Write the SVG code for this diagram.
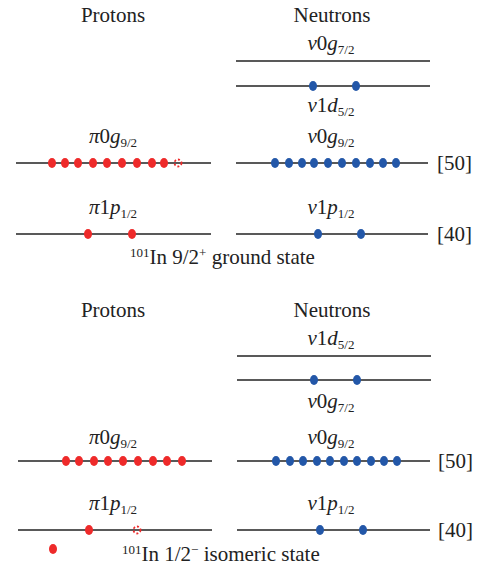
<svg xmlns="http://www.w3.org/2000/svg" width="484" height="567" viewBox="0 0 484 567" font-family="'Liberation Serif', 'DejaVu Serif', serif">
<style>
text{font-family:'Liberation Serif','DejaVu Serif',serif;fill:#222;font-size:21px}
.t{text-anchor:middle}
.i{font-style:italic}
.s{font-size:13px}
.lv{stroke:#222;stroke-width:1.5;fill:none}
.p{fill:#ee2a2a}
.n{fill:#2357a8}
.h{fill:none;stroke:#ee2a2a;stroke-width:1.8;stroke-dasharray:2 2}
</style>
<rect width="484" height="567" fill="#fff"/>
<g id="ground">
  <g id="g-head">
    <text class="t" x="113" y="22">Protons</text>
    <text class="t" x="332" y="22">Neutrons</text>
  </g>
  <g id="g-n0g72">
    <text class="t" x="331" y="50"><tspan class="i">v</tspan>0<tspan class="i">g</tspan><tspan class="s" dy="4">7/2</tspan></text>
    <line class="lv" x1="236" y1="61" x2="430" y2="61"/>
  </g>
  <g id="g-n1d52">
    <line class="lv" x1="236" y1="86" x2="430" y2="86"/>
    <ellipse class="n" cx="313" cy="86" rx="4" ry="5"/>
    <ellipse class="n" cx="356" cy="86" rx="4" ry="5"/>
    <text class="t" x="331" y="112"><tspan class="i">v</tspan>1<tspan class="i">d</tspan><tspan class="s" dy="4">5/2</tspan></text>
  </g>
  <g id="g-p0g92">
    <text class="t" x="113" y="143"><tspan class="i">π</tspan>0<tspan class="i">g</tspan><tspan class="s" dy="4">9/2</tspan></text>
    <line class="lv" x1="16" y1="163" x2="211" y2="163"/>
    <ellipse class="p" cx="52" cy="163" rx="4" ry="5"/>
    <ellipse class="p" cx="65" cy="163" rx="4" ry="5"/>
    <ellipse class="p" cx="78" cy="163" rx="4" ry="5"/>
    <ellipse class="p" cx="93" cy="163" rx="4" ry="5"/>
    <ellipse class="p" cx="107" cy="163" rx="4" ry="5"/>
    <ellipse class="p" cx="122" cy="163" rx="4" ry="5"/>
    <ellipse class="p" cx="137" cy="163" rx="4" ry="5"/>
    <ellipse class="p" cx="152" cy="163" rx="4" ry="5"/>
    <ellipse class="p" cx="164" cy="163" rx="4" ry="5"/>
    <circle class="h" cx="178" cy="163" r="3.5"/>
  </g>
  <g id="g-n0g92">
    <text class="t" x="331" y="143"><tspan class="i">v</tspan>0<tspan class="i">g</tspan><tspan class="s" dy="4">9/2</tspan></text>
    <line class="lv" x1="236" y1="163" x2="428" y2="163"/>
    <ellipse class="n" cx="275" cy="163" rx="4" ry="5"/>
    <ellipse class="n" cx="289" cy="163" rx="4" ry="5"/>
    <ellipse class="n" cx="302" cy="163" rx="4" ry="5"/>
    <ellipse class="n" cx="314" cy="163" rx="4" ry="5"/>
    <ellipse class="n" cx="328" cy="163" rx="4" ry="5"/>
    <ellipse class="n" cx="342" cy="163" rx="4" ry="5"/>
    <ellipse class="n" cx="356" cy="163" rx="4" ry="5"/>
    <ellipse class="n" cx="370" cy="163" rx="4" ry="5"/>
    <ellipse class="n" cx="383" cy="163" rx="4" ry="5"/>
    <ellipse class="n" cx="396" cy="163" rx="4" ry="5"/>
    <text x="437" y="170">[50]</text>
  </g>
  <g id="g-p1p12">
    <text class="t" x="113" y="214"><tspan class="i">π</tspan>1<tspan class="i">p</tspan><tspan class="s" dy="4">1/2</tspan></text>
    <line class="lv" x1="16" y1="234" x2="211" y2="234"/>
    <ellipse class="p" cx="88" cy="234" rx="4" ry="5"/>
    <ellipse class="p" cx="132" cy="234" rx="4" ry="5"/>
  </g>
  <g id="g-n1p12">
    <text class="t" x="331" y="214"><tspan class="i">v</tspan>1<tspan class="i">p</tspan><tspan class="s" dy="4">1/2</tspan></text>
    <line class="lv" x1="236" y1="234" x2="428" y2="234"/>
    <ellipse class="n" cx="318" cy="234" rx="4" ry="5"/>
    <ellipse class="n" cx="361" cy="234" rx="4" ry="5"/>
    <text x="437" y="241">[40]</text>
  </g>
  <text id="g-title" x="130" y="264"><tspan class="s" dy="-7">101</tspan><tspan dy="7">In 9/2</tspan><tspan class="s" dy="-7">+</tspan><tspan dy="7"> ground state</tspan></text>
</g>
<g id="isomer">
  <g id="i-head">
    <text class="t" x="113" y="317">Protons</text>
    <text class="t" x="332" y="317">Neutrons</text>
  </g>
  <g id="i-n1d52">
    <text class="t" x="331" y="345"><tspan class="i">v</tspan>1<tspan class="i">d</tspan><tspan class="s" dy="4">5/2</tspan></text>
    <line class="lv" x1="237" y1="356" x2="431" y2="356"/>
  </g>
  <g id="i-n0g72">
    <line class="lv" x1="237" y1="380" x2="431" y2="380"/>
    <ellipse class="n" cx="314" cy="380" rx="4" ry="5"/>
    <ellipse class="n" cx="357" cy="380" rx="4" ry="5"/>
    <text class="t" x="331" y="408"><tspan class="i">v</tspan>0<tspan class="i">g</tspan><tspan class="s" dy="4">7/2</tspan></text>
  </g>
  <g id="i-p0g92">
    <text class="t" x="113" y="444"><tspan class="i">π</tspan>0<tspan class="i">g</tspan><tspan class="s" dy="4">9/2</tspan></text>
    <line class="lv" x1="18" y1="461" x2="212" y2="461"/>
    <ellipse class="p" cx="66" cy="461" rx="4" ry="5"/>
    <ellipse class="p" cx="79" cy="461" rx="4" ry="5"/>
    <ellipse class="p" cx="94" cy="461" rx="4" ry="5"/>
    <ellipse class="p" cx="108" cy="461" rx="4" ry="5"/>
    <ellipse class="p" cx="123" cy="461" rx="4" ry="5"/>
    <ellipse class="p" cx="138" cy="461" rx="4" ry="5"/>
    <ellipse class="p" cx="153" cy="461" rx="4" ry="5"/>
    <ellipse class="p" cx="167" cy="461" rx="4" ry="5"/>
    <ellipse class="p" cx="182" cy="461" rx="4" ry="5"/>
  </g>
  <g id="i-n0g92">
    <text class="t" x="331" y="444"><tspan class="i">v</tspan>0<tspan class="i">g</tspan><tspan class="s" dy="4">9/2</tspan></text>
    <line class="lv" x1="237" y1="461" x2="430" y2="461"/>
    <ellipse class="n" cx="276" cy="461" rx="4" ry="5"/>
    <ellipse class="n" cx="290" cy="461" rx="4" ry="5"/>
    <ellipse class="n" cx="303" cy="461" rx="4" ry="5"/>
    <ellipse class="n" cx="317" cy="461" rx="4" ry="5"/>
    <ellipse class="n" cx="330" cy="461" rx="4" ry="5"/>
    <ellipse class="n" cx="344" cy="461" rx="4" ry="5"/>
    <ellipse class="n" cx="357" cy="461" rx="4" ry="5"/>
    <ellipse class="n" cx="371" cy="461" rx="4" ry="5"/>
    <ellipse class="n" cx="384" cy="461" rx="4" ry="5"/>
    <ellipse class="n" cx="397" cy="461" rx="4" ry="5"/>
    <text x="438" y="468">[50]</text>
  </g>
  <g id="i-p1p12">
    <text class="t" x="113" y="510"><tspan class="i">π</tspan>1<tspan class="i">p</tspan><tspan class="s" dy="4">1/2</tspan></text>
    <line class="lv" x1="18" y1="530" x2="212" y2="530"/>
    <ellipse class="p" cx="89" cy="530" rx="4" ry="5"/>
    <circle class="h" cx="137" cy="530" r="3.5"/>
  </g>
  <g id="i-n1p12">
    <text class="t" x="331" y="510"><tspan class="i">v</tspan>1<tspan class="i">p</tspan><tspan class="s" dy="4">1/2</tspan></text>
    <line class="lv" x1="237" y1="530" x2="430" y2="530"/>
    <ellipse class="n" cx="320" cy="530" rx="4" ry="5"/>
    <ellipse class="n" cx="363" cy="530" rx="4" ry="5"/>
    <text x="438" y="537">[40]</text>
  </g>
  <ellipse id="i-excited" class="p" cx="53" cy="549" rx="4" ry="5"/>
  <text id="i-title" x="122" y="561"><tspan class="s" dy="-7">101</tspan><tspan dy="7">In 1/2</tspan><tspan class="s" dy="-7">−</tspan><tspan dy="7"> isomeric state</tspan></text>
</g>
</svg>
